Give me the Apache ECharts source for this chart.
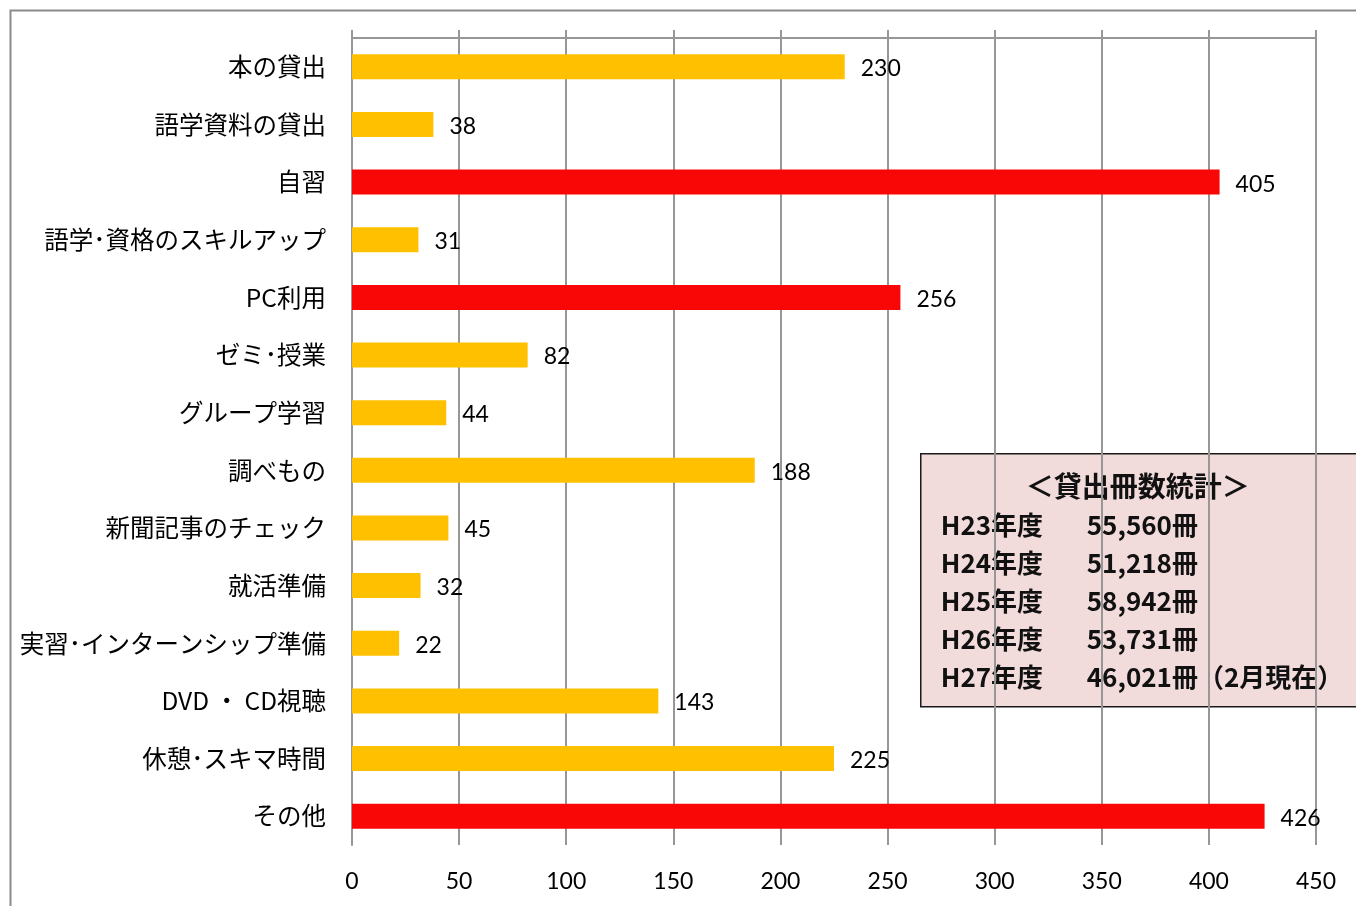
<!DOCTYPE html>
<html>
<head>
<meta charset="utf-8">
<script src="https://cdn.jsdelivr.net/npm/echarts@6/dist/echarts.min.js"></script>
<style>
  html, body { margin: 0; padding: 0; background: #fff; }
  #main { width: 1356px; height: 906px; }
</style>
</head>
<body>
<div id="main"></div>
<script>
// 利用目的（上から順）
var categories = ['本の貸出', '語学資料の貸出', '自習', '語学･資格のスキルアップ', 'PC利用',
    'ゼミ･授業', 'グループ学習', '調べもの', '新聞記事のチェック', '就活準備',
    '実習･インターンシップ準備', 'DVD ・ CD視聴', '休憩･スキマ時間', 'その他'];
var counts = [230, 38, 405, 31, 256, 82, 44, 188, 45, 32, 22, 143, 225, 426];
// 赤で強調する項目
var highlighted = ['自習', 'PC利用', 'その他'];

var xTicks = {min: 0, max: 450, interval: 50};

// 貸出冊数統計
var statTitle = '＜貸出冊数統計＞';
var statYears = ['H23年度', 'H24年度', 'H25年度', 'H26年度', 'H27年度'];
var statBooks = ['55,560冊', '51,218冊', '58,942冊', '53,731冊', '46,021冊（2月現在）'];

var jpFont = "'Noto Sans CJK JP', sans-serif";
var numFont = "Lato, 'Noto Sans CJK JP', sans-serif";
var gridColor = '#979797';

var barData = counts.map(function (v, i) {
    return {
        value: v,
        itemStyle: {color: highlighted.indexOf(categories[i]) >= 0 ? '#F90707' : '#FFC000'}
    };
});

// 統計ボックス
var boxChildren = [{
    type: 'rect',
    shape: {x: 0, y: 0, width: 460, height: 253},
    style: {fill: '#F2DCDB', stroke: '#1a1a1a', lineWidth: 1.5}
}, {
    type: 'text',
    style: {
        x: 217, y: 33, text: statTitle, align: 'center', verticalAlign: 'middle',
        font: 'bold 28px ' + jpFont, fill: '#111'
    }
}];
statYears.forEach(function (y, i) {
    boxChildren.push({
        type: 'text',
        style: {x: 20, y: 71 + i * 38.2, text: y, verticalAlign: 'middle',
            font: 'bold 26px ' + jpFont, fill: '#111'}
    });
    boxChildren.push({
        type: 'text',
        style: {x: 166, y: 71 + i * 38.2, text: statBooks[i], verticalAlign: 'middle',
            font: 'bold 26px ' + jpFont, fill: '#111'}
    });
});

var option = {
    animation: false,
    backgroundColor: '#fff',
    grid: {left: 352, right: 40, top: 38, bottom: 61, containLabel: false},
    xAxis: [{
        type: 'value',
        position: 'bottom',
        min: xTicks.min, max: xTicks.max, interval: xTicks.interval,
        axisLine: {show: false},
        axisTick: {show: false},
        splitLine: {show: true, lineStyle: {color: gridColor, width: 2}},
        axisLabel: {fontSize: 23, color: '#000', fontFamily: numFont, margin: 25}
    }, {
        type: 'value',
        position: 'top',
        min: xTicks.min, max: xTicks.max, interval: xTicks.interval,
        axisLine: {show: true, lineStyle: {color: gridColor, width: 2}},
        axisTick: {show: true, length: 8, lineStyle: {color: gridColor, width: 2}},
        splitLine: {show: false},
        axisLabel: {show: false}
    }],
    yAxis: {
        type: 'category',
        inverse: true,
        data: categories,
        axisLine: {show: true, lineStyle: {color: gridColor, width: 2}},
        axisTick: {show: false},
        axisLabel: {fontSize: 24.5, color: '#000', fontFamily: jpFont, margin: 26}
    },
    series: [{
        type: 'bar',
        xAxisIndex: 0,
        data: barData,
        barWidth: 25,
        label: {
            show: true,
            position: 'right',
            distance: 16,
            fontSize: 23,
            color: '#000',
            fontFamily: numFont,
            offset: [0, 2]
        }
    }],
    graphic: [{
        type: 'rect',
        left: 8, top: 8,
        shape: {width: 1400, height: 1000},
        style: {fill: 'none', stroke: '#8a8a8a', lineWidth: 2},
        z: 0
    }, {
        type: 'group',
        left: 920, top: 453,
        children: boxChildren,
        z: 100
    }]
};

var chart = echarts.init(document.getElementById('main'));
chart.setOption(option);
</script>
</body>
</html>
